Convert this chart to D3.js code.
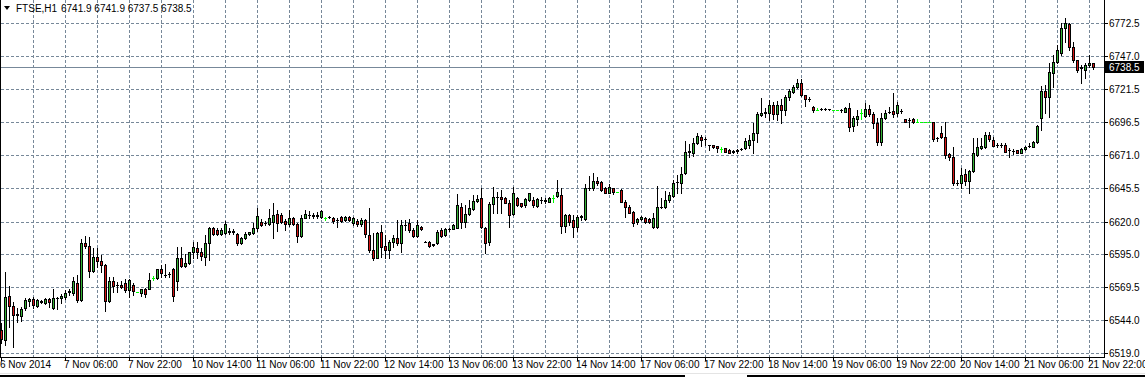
<!DOCTYPE html>
<html>
<head>
<meta charset="utf-8">
<script src="https://cdn.jsdelivr.net/npm/d3@7"></script>
<style>
  body { margin: 0; background: #fff; }
  svg { display: block; }
  text { font-family: "Liberation Sans", Arial, sans-serif; font-size: 10px; fill: #000; }
</style>
</head>
<body>
<script>
// FTSE H1, 6 Nov 2014 14:00 .. 21 Nov 2014 23:00 (one value per hourly bar)
const symbol = 'FTSE,H1';
const headerValues = '6741.9 6741.9 6737.5 6738.5';

const opens = [6536.7,6529.0,6562.8,6555.1,6548.3,6547.5,6553.6,6559.3,6560.5,6555.1,6558.2,6557.4,6560.5,6553.6,6560.9,6561.3,6562.0,6566.1,6565.1,6572.8,
  6559.7,6603.5,6601.2,6582.0,6592.8,6589.7,6586.6,6558.9,6574.3,6571.2,6571.2,6572.8,6567.4,6571.2,6565.7,6565.4,6568.2,6568.2,6576.9,6576.6,
  6583.6,6579.0,6579.7,6583.6,6574.3,6592.0,6585.9,6588.2,6596.6,6599.7,6596.6,6592.8,6603.5,6615.1,6613.5,6610.4,6611.2,6612.0,6612.4,6610.4,
  6603.5,6607.4,6610.4,6611.2,6615.1,6619.7,6618.5,6618.1,6619.7,6625.8,6625.0,6620.4,6618.1,6622.7,6618.1,6608.9,6622.7,6624.8,6624.7,6624.4,
  6623.7,6622.5,6623.1,6622.7,6621.4,6623.5,6621.2,6623.7,6618.7,6620.4,6617.9,6621.2,6609.7,6598.1,6592.0,6612.0,6601.2,6598.1,6604.3,6607.4,
  6603.5,6617.2,6618.9,6613.5,6608.9,6616.0,6604.6,6604.5,6602.0,6603.3,6613.5,6609.7,6614.0,6614.5,6615.1,6631.0,6619.4,6625.6,6629.4,6636.0,
  6638.1,6615.1,6604.3,6633.3,6638.6,6639.1,6637.9,6634.5,6625.8,6637.9,6634.0,6632.7,6636.6,6636.6,6632.2,6636.4,6636.3,6635.3,6637.9,6639.6,
  6640.4,6616.6,6625.0,6621.2,6616.0,6623.5,6622.0,6645.4,6645.6,6651.2,6650.6,6645.6,6642.2,6645.6,6642.5,6644.2,6635.3,6631.0,6627.3,6619.4,
  6621.7,6623.0,6622.2,6615.6,6615.6,6631.2,6631.0,6636.6,6639.6,6650.0,6649.4,6657.1,6673.5,6672.9,6680.1,6684.7,6683.4,6678.9,6678.6,6678.0,
  6675.5,6676.3,6675.0,6673.6,6674.4,6675.4,6676.3,6678.8,6682.6,6687.8,6701.6,6703.5,6703.2,6709.5,6702.4,6709.5,6705.7,6715.5,6719.8,6723.1,
  6726.2,6717.2,6714.0,6707.8,6705.7,6706.3,6706.6,6706.3,6705.7,6705.7,6705.6,6704.4,6707.0,6693.4,6698.6,6703.4,6701.1,6706.2,6702.6,6695.5,
  6681.3,6699.3,6704.3,6705.0,6703.2,6704.8,6698.6,6697.9,6698.6,6696.3,6696.3,6696.3,6696.3,6696.3,6684.0,6687.8,6685.2,6671.9,6669.8,6649.6,
  6649.4,6656.3,6651.4,6658.8,6671.1,6676.3,6677.5,6686.5,6682.6,6678.6,6678.6,6678.8,6675.1,6674.2,6675.0,6672.9,6675.5,6677.9,6677.5,6681.3,
  6699.3,6720.5,6715.5,6733.9,6742.8,6749.3,6768.5,6771.8,6753.9,6744.1,6738.3,6736.4,6740.3,6741.9];

const highs = [6542.1,6581.3,6570.5,6558.2,6553.6,6554.4,6561.3,6561.3,6562.0,6560.5,6559.7,6561.3,6561.4,6568.2,6562.3,6564.6,6567.4,6568.2,6577.4,6579.0,
  6606.6,6608.9,6608.1,6599.7,6599.7,6594.3,6587.4,6577.4,6577.4,6573.6,6574.3,6575.8,6575.8,6572.8,6565.7,6568.2,6568.6,6580.5,6578.0,6583.9,
  6586.6,6587.4,6581.5,6584.3,6600.4,6600.4,6595.1,6596.8,6604.3,6604.3,6599.7,6609.7,6615.8,6616.1,6615.3,6615.1,6620.4,6614.8,6614.0,6611.2,
  6608.4,6612.2,6612.2,6618.9,6630.4,6621.7,6620.4,6629.7,6634.3,6628.9,6626.3,6622.0,6628.9,6623.7,6618.5,6625.0,6628.9,6628.1,6626.3,6627.6,
  6628.9,6623.7,6624.3,6623.7,6622.5,6624.5,6624.5,6624.5,6623.7,6622.0,6622.7,6621.7,6630.4,6611.2,6612.2,6617.4,6609.7,6605.8,6609.7,6621.2,
  6621.2,6621.2,6621.7,6614.8,6621.2,6616.6,6604.8,6604.7,6603.0,6613.5,6614.8,6615.3,6615.3,6617.9,6641.2,6634.0,6632.7,6636.6,6640.4,6640.4,
  6645.8,6615.8,6635.0,6646.3,6643.0,6644.2,6638.6,6636.6,6646.8,6638.6,6634.5,6637.9,6642.2,6638.6,6638.3,6638.6,6637.9,6639.1,6640.4,6651.9,
  6645.6,6625.6,6625.8,6625.0,6625.0,6625.0,6648.9,6655.0,6657.5,6654.5,6651.2,6646.8,6648.6,6646.0,6642.5,6644.8,6636.6,6632.7,6627.8,6623.0,
  6624.5,6623.7,6622.7,6626.3,6647.3,6637.9,6643.5,6642.9,6651.9,6655.8,6662.2,6682.1,6679.6,6683.9,6687.8,6686.5,6684.7,6679.0,6678.8,6678.2,
  6677.1,6676.5,6675.4,6675.2,6675.7,6676.5,6684.0,6686.5,6696.0,6704.4,6714.7,6707.0,6713.4,6712.1,6712.8,6713.9,6717.2,6721.6,6724.9,6729.5,
  6729.3,6717.4,6715.5,6708.8,6707.0,6707.2,6707.2,6706.8,6705.7,6705.7,6706.5,6708.0,6710.8,6701.1,6705.7,6706.2,6711.3,6709.5,6704.4,6699.3,
  6703.2,6705.7,6707.8,6718.5,6712.1,6706.2,6698.8,6699.3,6699.3,6698.6,6696.3,6696.3,6696.3,6696.5,6685.2,6693.4,6696.7,6672.9,6677.0,6651.9,
  6660.9,6660.1,6659.4,6684.0,6684.0,6684.0,6689.0,6689.0,6685.2,6680.6,6680.0,6680.1,6676.3,6675.5,6675.2,6676.1,6678.0,6680.1,6681.9,6694.2,
  6724.1,6724.9,6742.0,6748.0,6755.6,6772.3,6776.1,6772.3,6758.2,6744.3,6740.3,6741.6,6748.0,6741.9];

const lows = [6526.7,6525.2,6539.0,6523.6,6542.9,6543.6,6552.1,6555.1,6553.6,6554.4,6557.4,6556.7,6554.6,6552.8,6552.8,6557.4,6560.5,6563.6,6563.6,6558.2,
  6558.9,6599.7,6577.4,6581.3,6585.1,6581.3,6551.3,6558.2,6565.9,6565.9,6568.9,6565.9,6562.0,6563.6,6565.7,6562.8,6562.3,6567.8,6575.3,6576.2,
  6577.4,6577.4,6577.6,6558.9,6567.4,6585.1,6585.1,6587.4,6592.0,6592.0,6590.5,6586.6,6590.5,6609.7,6609.7,6609.7,6610.4,6610.2,6610.6,6602.0,
  6602.8,6606.6,6609.7,6610.4,6612.7,6616.8,6617.4,6617.4,6607.4,6612.7,6618.7,6613.5,6616.6,6617.4,6604.3,6608.4,6622.5,6622.9,6622.5,6622.5,
  6622.9,6621.2,6622.5,6619.1,6616.0,6619.9,6620.4,6620.4,6617.4,6616.6,6616.6,6608.4,6596.6,6590.5,6591.8,6592.8,6592.0,6592.0,6600.7,6602.0,
  6596.6,6613.5,6612.2,6608.4,6608.4,6613.5,6604.2,6600.7,6601.4,6602.8,6608.4,6608.9,6613.0,6614.1,6614.8,6614.8,6616.0,6625.0,6628.9,6635.3,
  6615.1,6595.8,6602.0,6626.3,6626.3,6626.3,6634.0,6616.0,6625.0,6632.0,6631.0,6631.4,6636.0,6631.4,6631.4,6634.4,6634.5,6634.9,6635.3,6639.1,
  6611.4,6612.2,6617.4,6608.4,6612.7,6621.2,6621.2,6644.2,6644.2,6648.1,6643.7,6641.7,6641.7,6641.2,6642.5,6634.8,6623.7,6626.3,6616.6,6618.1,
  6621.2,6619.1,6619.1,6615.1,6615.3,6630.2,6630.2,6635.3,6639.1,6641.7,6641.7,6656.5,6669.8,6670.4,6679.6,6678.0,6678.8,6675.0,6676.5,6673.7,
  6673.7,6673.4,6672.4,6672.4,6672.9,6674.7,6675.5,6676.3,6672.9,6681.3,6701.1,6700.5,6698.0,6698.6,6698.0,6696.0,6701.9,6713.4,6718.5,6722.8,
  6716.5,6708.8,6712.8,6704.4,6705.7,6705.5,6705.7,6705.5,6705.7,6705.7,6704.4,6704.2,6689.8,6689.8,6694.2,6698.6,6700.6,6701.1,6691.6,6678.8,
  6678.8,6698.6,6703.2,6700.6,6701.1,6703.6,6696.5,6692.9,6696.0,6696.3,6696.3,6696.3,6696.3,6682.1,6682.1,6684.0,6668.6,6667.3,6648.1,6648.1,
  6645.6,6648.1,6642.2,6658.3,6670.4,6675.5,6676.3,6682.1,6677.8,6677.1,6677.0,6673.5,6669.8,6671.9,6672.6,6672.3,6675.0,6677.1,6677.1,6680.6,
  6690.3,6703.2,6700.6,6723.6,6741.6,6748.0,6758.2,6751.8,6742.8,6735.1,6726.2,6730.0,6739.0,6737.5];

const closes = [6529.8,6562.0,6555.1,6548.3,6549.0,6552.8,6559.7,6560.1,6555.9,6559.7,6558.6,6560.5,6558.2,6561.3,6561.3,6562.8,6565.4,6566.4,6574.3,6559.7,
  6603.5,6601.2,6582.0,6592.8,6589.7,6586.6,6558.9,6574.3,6570.5,6570.9,6569.7,6567.4,6575.1,6566.6,6565.7,6568.0,6564.3,6575.1,6576.9,6583.6,
  6580.5,6579.3,6579.5,6562.8,6592.0,6585.9,6588.2,6596.6,6600.4,6596.6,6593.5,6603.5,6615.1,6610.4,6610.4,6613.5,6618.1,6612.4,6612.2,6603.5,
  6607.4,6610.4,6612.0,6615.1,6624.3,6617.4,6618.9,6622.7,6625.0,6618.9,6619.7,6618.1,6622.7,6618.1,6608.9,6622.7,6625.8,6625.2,6624.3,6624.7,
  6628.1,6622.5,6623.5,6620.4,6621.0,6620.4,6623.7,6621.2,6622.9,6617.9,6621.2,6610.2,6598.1,6592.0,6611.2,6600.4,6598.1,6604.3,6607.4,6603.5,
  6617.4,6617.6,6613.5,6608.9,6617.4,6614.1,6604.4,6601.2,6602.4,6612.2,6608.9,6614.1,6614.3,6617.4,6632.7,6619.4,6625.6,6630.2,6636.0,6637.4,
  6615.8,6603.5,6633.5,6639.1,6638.8,6637.1,6634.5,6625.0,6642.2,6632.7,6632.0,6637.1,6641.7,6632.7,6637.4,6636.8,6636.0,6637.9,6637.9,6643.0,
  6616.6,6625.0,6619.9,6616.0,6623.7,6623.9,6645.6,6645.8,6651.2,6649.4,6644.2,6642.2,6646.3,6643.0,6642.5,6635.3,6631.0,6626.8,6619.1,6622.0,
  6623.7,6619.9,6619.9,6622.5,6631.0,6630.8,6636.6,6640.4,6649.4,6650.2,6656.3,6673.7,6673.9,6680.1,6685.7,6682.6,6683.6,6678.7,6677.1,6676.3,
  6675.5,6673.7,6672.9,6673.8,6674.6,6675.7,6681.9,6682.6,6687.8,6702.6,6703.6,6703.8,6709.3,6702.4,6709.5,6705.7,6715.5,6720.3,6723.1,6726.2,
  6717.2,6713.9,6713.8,6705.7,6705.7,6706.6,6706.4,6706.1,6705.7,6705.7,6705.9,6707.5,6692.9,6699.3,6701.1,6703.4,6706.2,6702.6,6695.5,6681.3,
  6699.3,6703.6,6704.5,6702.6,6709.5,6705.0,6696.7,6698.1,6696.3,6696.3,6696.3,6696.3,6696.3,6683.2,6684.2,6685.2,6671.1,6669.4,6649.8,6649.9,
  6655.8,6651.4,6658.8,6672.4,6677.0,6678.0,6686.5,6683.2,6678.0,6678.8,6678.4,6673.7,6674.9,6674.0,6672.9,6675.5,6677.5,6678.2,6681.3,6693.4,
  6720.5,6715.5,6735.1,6742.8,6751.8,6768.5,6772.3,6753.9,6744.1,6736.4,6738.5,6740.3,6742.0,6738.5];

const timeLabels = ['6 Nov 2014','7 Nov 06:00','7 Nov 22:00','10 Nov 14:00','11 Nov 06:00','11 Nov 22:00','12 Nov 14:00',
  '13 Nov 06:00','13 Nov 22:00','14 Nov 14:00','17 Nov 06:00','17 Nov 22:00','18 Nov 14:00','19 Nov 06:00',
  '19 Nov 22:00','20 Nov 14:00','21 Nov 06:00','21 Nov 22:00'];
const timeLabelBars = [0,16,32,48,64,80,96,112,128,144,160,176,192,208,224,240,256,272];

const priceLabels = [6772.5,6747.0,6721.5,6696.5,6671.0,6645.5,6620.0,6595.0,6569.5,6544.0,6519.0];
const lastPrice = 6738.5;

const W = 1145, H = 377;
const plotRight = 1104, plotBottom = 357;
const gridColor = '#778899';
const bullColor = '#34b234', bearColor = '#d41414', dojiColor = '#00ff00';

const svg = d3.select('body').append('svg')
  .attr('width', W).attr('height', H)
  .attr('shape-rendering', 'crispEdges');

// bar index -> pixel column, price -> pixel row
const x = d3.scaleLinear().domain([0, 1]).range([1, 5]);
const y = d3.scaleLinear().domain([6519, 6772.5]).range([353, 23]);
const py = v => Math.round(y(v));

// grid
const grid = svg.append('g').attr('stroke', gridColor).attr('stroke-dasharray', '3,2');
grid.selectAll('line.h').data(priceLabels).enter().append('line')
  .attr('x1', 1).attr('x2', plotRight)
  .attr('y1', d => py(d) + 0.5).attr('y2', d => py(d) + 0.5);
const vBars = d3.range(8, opens.length, 8).filter(i => x(i) < plotRight);
grid.selectAll('line.v').data(vBars).enter().append('line')
  .attr('x1', d => x(d) + 0.5).attr('x2', d => x(d) + 0.5)
  .attr('y1', 0).attr('y2', plotBottom);

// current price line
svg.append('line')
  .attr('x1', 1).attr('x2', plotRight)
  .attr('y1', py(lastPrice) + 0.5).attr('y2', py(lastPrice) + 0.5)
  .attr('stroke', gridColor);

// candles
const bars = d3.range(opens.length).map(i => ({
  i, o: opens[i], h: highs[i], l: lows[i], c: closes[i]
}));
const candle = svg.append('g').selectAll('g').data(bars).enter().append('g');

candle.append('line')
  .attr('x1', d => x(d.i) + 0.5).attr('x2', d => x(d.i) + 0.5)
  .attr('y1', d => py(d.h)).attr('y2', d => py(d.l) + 1)
  .attr('stroke', d => d.o === d.c ? dojiColor : '#000');

candle.filter(d => d.o === d.c).append('line')
  .attr('x1', d => x(d.i) - 1).attr('x2', d => x(d.i) + 2)
  .attr('y1', d => py(d.o) + 0.5).attr('y2', d => py(d.o) + 0.5)
  .attr('stroke', dojiColor);

const body = candle.filter(d => d.o !== d.c);
body.append('rect')
  .attr('x', d => x(d.i) - 1).attr('width', 3)
  .attr('y', d => py(Math.max(d.o, d.c)))
  .attr('height', d => py(Math.min(d.o, d.c)) - py(Math.max(d.o, d.c)) + 1)
  .attr('fill', '#000');
body.filter(d => py(Math.min(d.o, d.c)) - py(Math.max(d.o, d.c)) > 1).append('rect')
  .attr('x', d => x(d.i)).attr('width', 1)
  .attr('y', d => py(Math.max(d.o, d.c)) + 1)
  .attr('height', d => py(Math.min(d.o, d.c)) - py(Math.max(d.o, d.c)) - 1)
  .attr('fill', d => d.c > d.o ? bullColor : bearColor);

// frame
svg.append('line').attr('x1', 0.5).attr('x2', 0.5).attr('y1', 0).attr('y2', plotBottom + 1).attr('stroke', '#000');
svg.append('line').attr('x1', plotRight + 0.5).attr('x2', plotRight + 0.5).attr('y1', 0).attr('y2', plotBottom + 1).attr('stroke', '#000');
svg.append('line').attr('x1', 0).attr('x2', plotRight + 1).attr('y1', plotBottom + 0.5).attr('y2', plotBottom + 0.5).attr('stroke', '#000');

// price axis
const pAxis = svg.append('g');
pAxis.selectAll('line').data(priceLabels).enter().append('line')
  .attr('x1', plotRight).attr('x2', plotRight + 4)
  .attr('y1', d => py(d) + 0.5).attr('y2', d => py(d) + 0.5)
  .attr('stroke', '#000');
pAxis.selectAll('text').data(priceLabels).enter().append('text')
  .attr('x', 1109).attr('y', d => py(d) + 4)
  .text(d => d.toFixed(1));

svg.append('rect')
  .attr('x', 1105).attr('y', py(lastPrice) - 6)
  .attr('width', 39).attr('height', 12).attr('fill', '#000');
svg.append('text')
  .attr('x', 1109).attr('y', py(lastPrice) + 4)
  .style('fill', '#fff')
  .text(lastPrice.toFixed(1));

// time axis
const tAxis = svg.append('g');
tAxis.selectAll('line').data(timeLabelBars).enter().append('line')
  .attr('x1', d => x(d) + 0.5).attr('x2', d => x(d) + 0.5)
  .attr('y1', plotBottom).attr('y2', plotBottom + 4)
  .attr('stroke', '#000');
tAxis.selectAll('text').data(timeLabels).enter().append('text')
  .attr('x', (d, k) => x(timeLabelBars[k]) - 1)
  .attr('y', 368)
  .text(d => d);

// header
svg.append('path').attr('d', 'M4,6 L10,6 L7,10 Z').attr('fill', '#000').attr('shape-rendering', 'auto');
svg.append('text').attr('x', 16).attr('y', 12).text(symbol);
svg.append('text').attr('x', 61).attr('y', 12).text(headerValues);

// window edge
svg.append('line').attr('x1', 0).attr('x2', W).attr('y1', 373.5).attr('y2', 373.5).attr('stroke', '#e4e4e4');
svg.append('line').attr('x1', 0).attr('x2', 685).attr('y1', 376).attr('y2', 376).attr('stroke', '#000').attr('stroke-width', 2);
svg.append('line').attr('x1', 747).attr('x2', W).attr('y1', 376).attr('y2', 376).attr('stroke', '#000').attr('stroke-width', 2);
</script>
</body>
</html>
